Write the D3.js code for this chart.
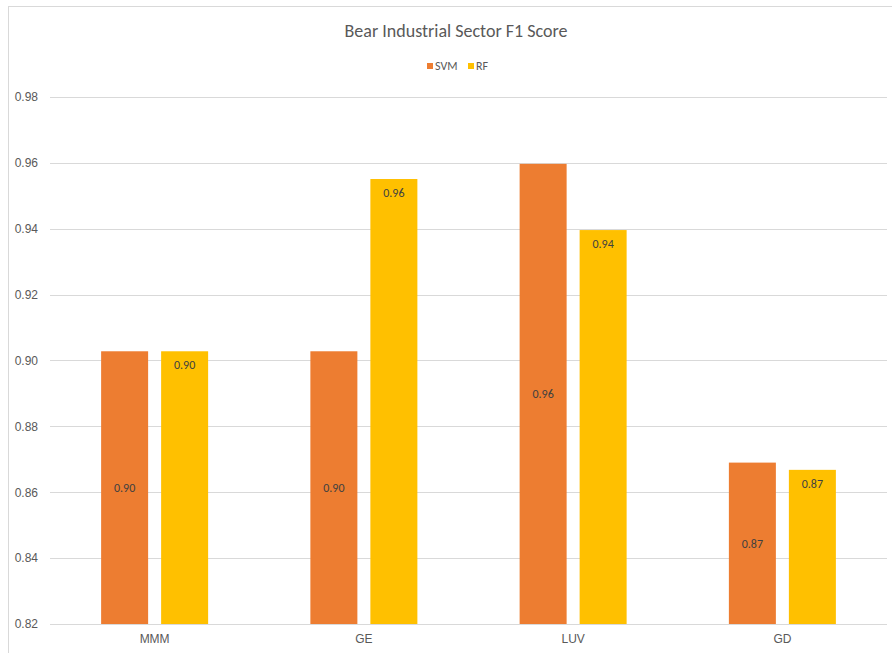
<!DOCTYPE html>
<html>
<head>
<meta charset="utf-8">
<script src="https://cdn.jsdelivr.net/npm/d3@7"></script>
<style>
    body { margin: 0; background: #fff; }
    svg { font-family: Carlito, Lato, "Open Sans", sans-serif; }
</style>
</head>
<body>
<div id="chart"></div>
<script>
const categories = ["MMM", "GE", "LUV", "GD"];
const seriesNames = ["SVM", "RF"];
const svmValues = [0.9028, 0.9028, 0.9597, 0.8690];
const rfValues = [0.9028, 0.9551, 0.9396, 0.8668];
const yTicks = [0.82, 0.84, 0.86, 0.88, 0.90, 0.92, 0.94, 0.96, 0.98];
const colors = ["#ED7D31", "#FFC000"];

const width = 892, height = 653;
const margin = { top: 97, left: 50, bottom: 29, right: 5 };
const innerW = width - margin.left - margin.right;
const innerH = height - margin.top - margin.bottom;

const svg = d3.select("#chart").append("svg")
    .attr("width", width)
    .attr("height", height);

// Chart frame (light border, like the spreadsheet chart area)
svg.append("rect")
    .attr("x", 8.5).attr("y", 6.5)
    .attr("width", width + 10).attr("height", height + 10)
    .attr("fill", "none")
    .attr("stroke", "#d9d9d9");

const g = svg.append("g")
    .attr("transform", "translate(" + margin.left + "," + margin.top + ")");

const y = d3.scaleLinear()
    .domain([0.82, 0.98])
    .range([innerH, 0]);

const x = d3.scaleBand()
    .domain(categories)
    .range([0, innerW]);

const groupW = 107;
const xs = d3.scaleBand()
    .domain(seriesNames)
    .range([(x.step() - groupW) / 2, (x.step() + groupW) / 2])
    .paddingInner(13 / 60);

// Gridlines
g.append("g")
    .selectAll("line")
    .data(yTicks)
    .join("line")
    .attr("x1", 0).attr("x2", innerW)
    .attr("y1", d => Math.round(y(d)) + 0.5)
    .attr("y2", d => Math.round(y(d)) + 0.5)
    .attr("stroke", "#d9d9d9");

// Y axis labels
const yAxis = d3.axisLeft(y).tickValues(yTicks).tickFormat(d3.format(".2f")).tickSize(0).tickPadding(12);
g.append("g")
    .call(yAxis)
    .call(s => s.select(".domain").remove())
    .selectAll("text")
    .attr("fill", "#595959")
    .style("font-size", "12px");

// X axis labels
const xAxis = d3.axisBottom(x).tickSize(0).tickPadding(10);
g.append("g")
    .attr("transform", "translate(0," + innerH + ")")
    .call(xAxis)
    .call(s => s.select(".domain").remove())
    .selectAll("text")
    .attr("fill", "#595959")
    .style("font-size", "12px");

// Bars
const rows = categories.map((c, i) => ({
    cat: c,
    vals: [{ s: "SVM", v: svmValues[i] }, { s: "RF", v: rfValues[i] }]
}));

const groups = g.selectAll(".grp")
    .data(rows)
    .join("g")
    .attr("class", "grp")
    .attr("transform", d => "translate(" + x(d.cat) + ",0)");

groups.selectAll("rect")
    .data(d => d.vals)
    .join("rect")
    .attr("x", d => xs(d.s))
    .attr("width", xs.bandwidth())
    .attr("y", d => y(d.v))
    .attr("height", d => innerH - y(d.v))
    .attr("fill", (d, i) => colors[i]);

// Data labels: SVM centred, RF inside end
groups.selectAll("text.lbl")
    .data(d => d.vals)
    .join("text")
    .attr("class", "lbl")
    .attr("x", d => xs(d.s) + xs.bandwidth() / 2)
    .attr("y", (d, i) => i === 0 ? (y(d.v) + innerH) / 2 : y(d.v) + 14)
    .attr("dy", "0.35em")
    .attr("text-anchor", "middle")
    .attr("fill", "#404040")
    .style("font-size", "12px")
    .text(d => d3.format(".2f")(d.v));

// Title
svg.append("text")
    .attr("x", 456)
    .attr("y", 31)
    .attr("dy", "0.35em")
    .attr("text-anchor", "middle")
    .attr("fill", "#595959")
    .style("font-size", "18px")
    .text("Bear Industrial Sector F1 Score");

// Legend
const legend = svg.append("g").attr("transform", "translate(427,66)");
const legendX = [0, 41];
seriesNames.forEach((s, i) => {
    legend.append("rect")
        .attr("x", legendX[i]).attr("y", -3)
        .attr("width", 6).attr("height", 6)
        .attr("fill", colors[i]);
    legend.append("text")
        .attr("x", legendX[i] + 8).attr("y", 0)
        .attr("dy", "0.35em")
        .attr("fill", "#595959")
        .style("font-size", "12px")
        .text(s);
});
</script>
</body>
</html>
